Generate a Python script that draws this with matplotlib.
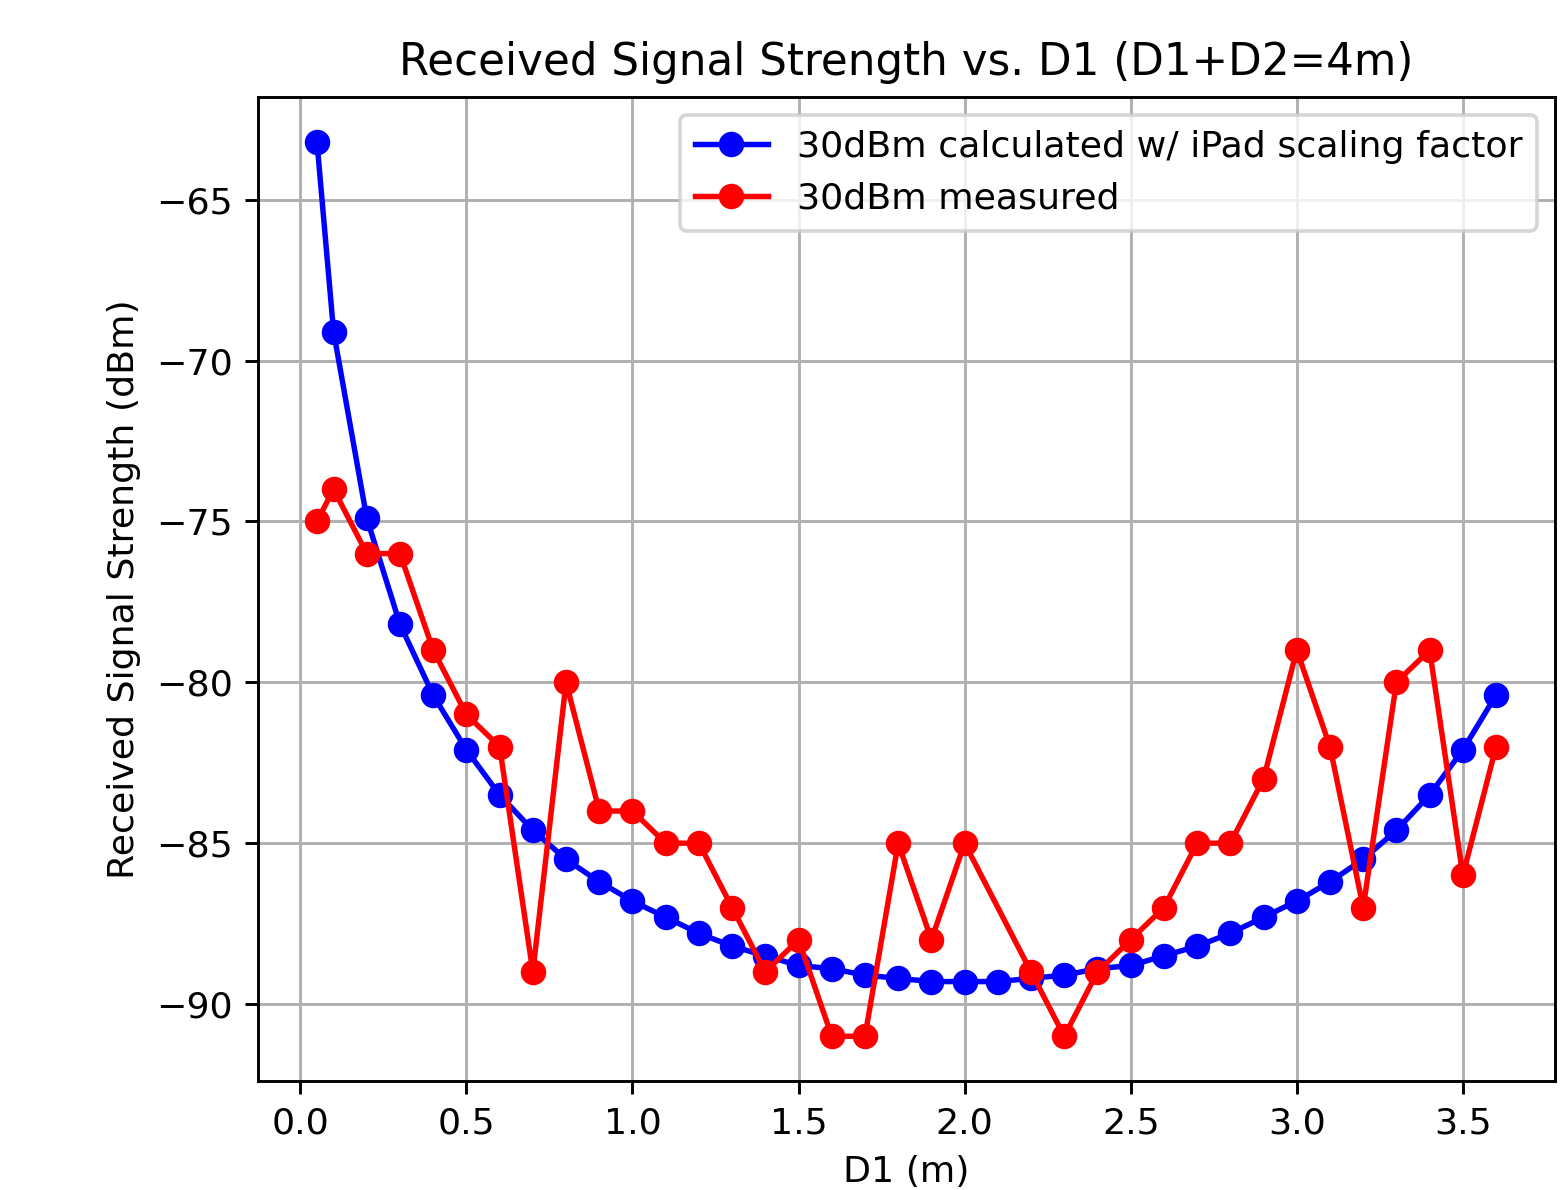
import numpy as np
import matplotlib.pyplot as plt

# distance D1 (m), D1+D2 = 4 m
d1_calc = [0.05, 0.1, 0.2, 0.3, 0.4, 0.5, 0.6, 0.7, 0.8, 0.9, 1.0, 1.1, 1.2,
           1.3, 1.4, 1.5, 1.6, 1.7, 1.8, 1.9, 2.0, 2.1, 2.2, 2.3, 2.4, 2.5,
           2.6, 2.7, 2.8, 2.9, 3.0, 3.1, 3.2, 3.3, 3.4, 3.5, 3.6]
rss_calc = [-63.2, -69.1, -74.9, -78.2, -80.4, -82.1, -83.5, -84.6, -85.5,
            -86.2, -86.8, -87.3, -87.8, -88.2, -88.5, -88.8, -88.9, -89.1,
            -89.2, -89.3, -89.3, -89.3, -89.2, -89.1, -88.9, -88.8, -88.5,
            -88.2, -87.8, -87.3, -86.8, -86.2, -85.5, -84.6, -83.5, -82.1,
            -80.4]

# measured (no point at 2.1 m)
d1_meas = [0.05, 0.1, 0.2, 0.3, 0.4, 0.5, 0.6, 0.7, 0.8, 0.9, 1.0, 1.1, 1.2,
           1.3, 1.4, 1.5, 1.6, 1.7, 1.8, 1.9, 2.0, 2.2, 2.3, 2.4, 2.5,
           2.6, 2.7, 2.8, 2.9, 3.0, 3.1, 3.2, 3.3, 3.4, 3.5, 3.6]
rss_meas = [-75, -74, -76, -76, -79, -81, -82, -89, -80, -84, -84, -85, -85,
            -87, -89, -88, -91, -91, -85, -88, -85, -89, -91, -89, -88,
            -87, -85, -85, -83, -79, -82, -87, -80, -79, -86, -82]

dpi = 262
fig = plt.figure(figsize=(1567/dpi, 1190/dpi), dpi=dpi)
ax = fig.add_axes([258/1567, 1-1081/1190, (1555-258)/1567, (1081-97)/1190])

ax.plot(d1_calc, rss_calc, 'o-', color='blue',
        label='30dBm calculated w/ iPad scaling factor')
ax.plot(d1_meas, rss_meas, 'o-', color='red', label='30dBm measured')

ax.set_title('Received Signal Strength vs. D1 (D1+D2=4m)')
ax.set_xlabel('D1 (m)')
ax.set_ylabel('Received Signal Strength (dBm)')
ax.grid(True)
ax.legend(loc='upper right')

fig.savefig('out.png', dpi=dpi)
